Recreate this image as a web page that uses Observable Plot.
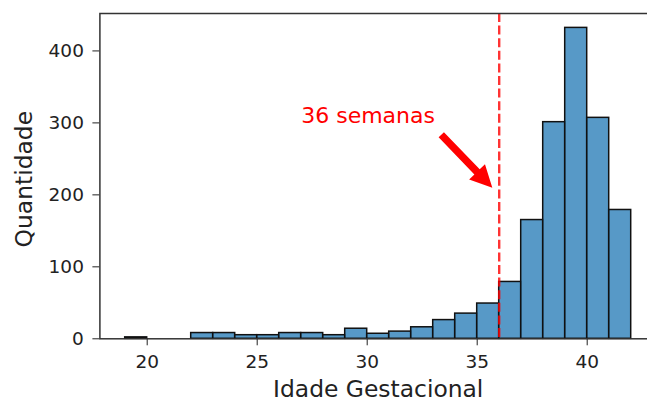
<!DOCTYPE html>
<html><head><meta charset="utf-8">
<script src="https://cdn.jsdelivr.net/npm/d3@7"></script>
<script src="https://cdn.jsdelivr.net/npm/@observablehq/plot@0.6"></script>
<style>
html,body{margin:0;padding:0;background:#fff;overflow:hidden}
#chart svg{overflow:hidden;display:block}
</style></head><body><div id="chart"></div>
<script>
// ---- data ----
const binStarts = [19,20,21,22,23,24,25,26,27,28,29,30,31,32,33,34,35,36,37,38,39,40,41];
const counts    = [ 2, 0, 0, 8, 8, 5, 5, 8, 8, 5,14, 7,10,16,26,35,49,79,165,301,432,307,179];
const binWidth = 1;
const xTicks = [20, 25, 30, 35, 40];
const yTicks = [0, 100, 200, 300, 400];
const xLabel = "Idade Gestacional";
const yLabel = "Quantidade";
const cutoffWeek = [36];
const annotationText = ["36 semanas"];
const annotationTextAt = [27, 300];
const arrowFrom = [33.1, 292];
const arrowTo = [36, 200];
const arrowShrink = 0.1;

const bins = binStarts.map((s, i) => ({x1: s, x2: s + binWidth, count: counts[i]})).filter(d => d.count > 0);
const annotation = annotationText.map(t => ({text: t, x: annotationTextAt[0], y: annotationTextAt[1]}));

function arrowMark(index, scales) {
  const sx = scales.x, sy = scales.y;
  let x0 = sx(arrowFrom[0]), y0 = sy(arrowFrom[1]);
  let x1 = sx(arrowTo[0]), y1 = sy(arrowTo[1]);
  const dx = x1 - x0, dy = y1 - y0, r = Math.hypot(dx, dy);
  const ux = dx / r, uy = dy / r, nx = -uy, ny = ux;
  const s = arrowShrink * r;
  x0 += ux * s; y0 += uy * s; x1 -= ux * s; y1 -= uy * s;
  const tw = 7.4, hw = 22, hl = 22;
  const bx = x1 - ux * hl, by = y1 - uy * hl;
  const pts = [
    [x0 + nx * tw / 2, y0 + ny * tw / 2],
    [bx + nx * tw / 2, by + ny * tw / 2],
    [bx + nx * hw / 2, by + ny * hw / 2],
    [x1, y1],
    [bx - nx * hw / 2, by - ny * hw / 2],
    [bx - nx * tw / 2, by - ny * tw / 2],
    [x0 - nx * tw / 2, y0 - ny * tw / 2]
  ];
  const g = d3.create("svg:g");
  g.append("path").attr("d", "M" + pts.map(p => p.join(",")).join("L") + "Z").attr("fill", "red");
  return g.node();
}

const plot = Plot.plot({
  width: 647,
  height: 402,
  marginLeft: 99.4,
  marginRight: -9,
  marginTop: 13,
  marginBottom: 63.7,
  style: {fontFamily: "DejaVu Sans", fontSize: "18.5px", color: "#222", background: "#fff"},
  x: {domain: [17.85, 43.15], ticks: xTicks, tickSize: 7, tickPadding: 9.5, label: null, tickFormat: d => String(d)},
  y: {domain: [0, 452], ticks: yTicks, tickSize: 7, tickPadding: 9, label: null, tickFormat: d => String(d)},
  marks: [
    Plot.rectY(bins, {x1: "x1", x2: "x2", y: "count", fill: "#1f77b4", fillOpacity: 0.75, stroke: "#111", strokeWidth: 1.5}),
    Plot.ruleX(cutoffWeek, {stroke: "red", strokeOpacity: 0.8, strokeWidth: 2.4, strokeDasharray: "9,3.6"}),
    Plot.text(annotation, {x: "x", y: "y", text: "text", textAnchor: "start", lineAnchor: "bottom", fill: "red", fontSize: 22}),
    arrowMark,
    Plot.frame({stroke: "#333", strokeWidth: 1.5}),
    Plot.text([xLabel], {frameAnchor: "bottom", text: d => d, dy: 58, lineAnchor: "bottom", textAnchor: "middle", fontSize: 23.4, fill: "#222"}),
    Plot.text([yLabel], {frameAnchor: "left", text: d => d, rotate: -90, dx: -68.4, dy: 3, lineAnchor: "bottom", textAnchor: "middle", fontSize: 23.4, fill: "#222"})
  ]
});
document.getElementById("chart").appendChild(plot);
</script>
</body></html>
